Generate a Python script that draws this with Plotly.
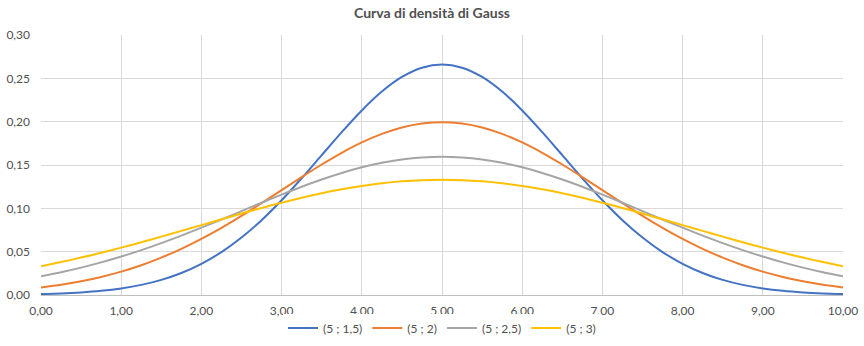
import plotly.graph_objects as go

x_vals = [0.00, 0.25, 0.50, 0.75, 1.00, 1.25, 1.50, 1.75, 2.00, 2.25, 2.50, 2.75, 3.00, 3.25,
          3.50, 3.75, 4.00, 4.25, 4.50, 4.75, 5.00, 5.25, 5.50, 5.75, 6.00, 6.25, 6.50,
          6.75, 7.00, 7.25, 7.50, 7.75, 8.00, 8.25, 8.50, 8.75, 9.00, 9.25, 9.50, 9.75, 10.00]

s_15 = [0.00103, 0.00177, 0.00295, 0.00480, 0.00760, 0.01169, 0.01748, 0.02543, 0.03599, 0.04954,
        0.06632, 0.08634, 0.10934, 0.13467, 0.16131, 0.18794, 0.21297, 0.23471, 0.25159, 0.26229,
        0.26596,
        0.26229, 0.25159, 0.23471, 0.21297, 0.18794, 0.16131, 0.13467, 0.10934, 0.08634, 0.06632,
        0.04954, 0.03599, 0.02543, 0.01748, 0.01169, 0.00760, 0.00480, 0.00295, 0.00177, 0.00103]
s_2 = [0.00876, 0.01189, 0.01587, 0.02086, 0.02700, 0.03439, 0.04314, 0.05327, 0.06476, 0.07751,
       0.09132, 0.10594, 0.12099, 0.13603, 0.15057, 0.16408, 0.17603, 0.18593, 0.19333, 0.19792,
       0.19947,
       0.19792, 0.19333, 0.18593, 0.17603, 0.16408, 0.15057, 0.13603, 0.12099, 0.10594, 0.09132,
       0.07751, 0.06476, 0.05327, 0.04314, 0.03439, 0.02700, 0.02086, 0.01587, 0.01189, 0.00876]
s_25 = [0.02160, 0.02625, 0.03158, 0.03762, 0.04437, 0.05181, 0.05989, 0.06855, 0.07767, 0.08714,
        0.09679, 0.10643, 0.11588, 0.12490, 0.13329, 0.14083, 0.14731, 0.15256, 0.15642, 0.15878,
        0.15958,
        0.15878, 0.15642, 0.15256, 0.14731, 0.14083, 0.13329, 0.12490, 0.11588, 0.10643, 0.09679,
        0.08714, 0.07767, 0.06855, 0.05989, 0.05181, 0.04437, 0.03762, 0.03158, 0.02625, 0.02160]
s_3 = [0.03316, 0.03797, 0.04317, 0.04875, 0.05467, 0.06088, 0.06733, 0.07395, 0.08066, 0.08736,
       0.09397, 0.10038, 0.10648, 0.11217, 0.11736, 0.12192, 0.12579, 0.12889, 0.13115, 0.13252,
       0.13298,
       0.13252, 0.13115, 0.12889, 0.12579, 0.12192, 0.11736, 0.11217, 0.10648, 0.10038, 0.09397,
       0.08736, 0.08066, 0.07395, 0.06733, 0.06088, 0.05467, 0.04875, 0.04317, 0.03797, 0.03316]

names = ["(5 ; 1,5)", "(5 ; 2)", "(5 ; 2,5)", "(5 ; 3)"]
colors = ["#4472C4", "#ED7D31", "#A5A5A5", "#FFC000"]
series = [s_15, s_2, s_25, s_3]

x_ticks = [0, 1, 2, 3, 4, 5, 6, 7, 8, 9, 10]
y_ticks = [0, 0.05, 0.10, 0.15, 0.20, 0.25, 0.30]

FONT = "Lato"
TXT = "#505050"

fig = go.Figure()
for name, col, ys in zip(names, colors, series):
    fig.add_trace(go.Scatter(x=x_vals, y=ys, mode="lines", name=name,
                             line=dict(color=col, width=2, shape="spline", smoothing=0.8),
                             hoverinfo="skip"))

fig.update_layout(
    width=864, height=346,
    margin=dict(l=41, r=21, t=35, b=51, autoexpand=False),
    paper_bgcolor="white", plot_bgcolor="white",
    separators=",.",
    font=dict(family=FONT, size=12, color=TXT),
    title=dict(text="<b>Curva di densità di Gauss</b>", x=0.5, xanchor="center",
               y=1 - 13 / 346, yanchor="middle", yref="container",
               font=dict(family=FONT, size=14, color=TXT)),
    showlegend=True,
    legend=dict(orientation="h", x=0.5, xanchor="center", xref="paper",
                y=1 - 328 / 346, yanchor="middle", yref="container",
                font=dict(family=FONT, size=12, color=TXT), itemwidth=30,
                traceorder="normal", tracegroupgap=0),
    xaxis=dict(range=[0, 10], tickvals=x_ticks, tickformat=".2f",
               showgrid=True, gridcolor="#D9D9D9", gridwidth=1,
               showline=True, linecolor="#BFBFBF", linewidth=1,
               zeroline=False, ticks="", ticklabelstandoff=5, automargin=False,
               tickfont=dict(family=FONT, size=12, color=TXT), fixedrange=True),
    yaxis=dict(range=[0, 0.30], tickvals=y_ticks, tickformat=".2f",
               showgrid=True, gridcolor="#D9D9D9", gridwidth=1,
               showline=False, zeroline=False, ticks="", ticklabelstandoff=10, automargin=False,
               tickfont=dict(family=FONT, size=12, color=TXT), fixedrange=True),
)

fig.write_html("out.html")
